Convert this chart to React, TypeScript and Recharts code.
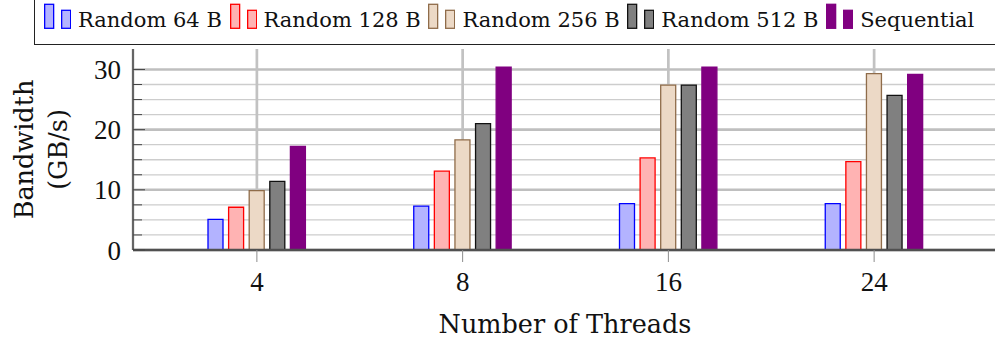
import React from "react";
import { BarChart, Bar, XAxis, YAxis, CartesianGrid, Label } from "recharts";

const FONT = "'DejaVu Serif', serif";
const NUM_FONT = "'Liberation Serif', serif";

// bandwidth (GB/s) per thread count
const threads = ["4", "8", "16", "24"];
const random64 = [5.1, 7.3, 7.7, 7.7];
const random128 = [7.1, 13.1, 15.3, 14.7];
const random256 = [9.85, 18.3, 27.4, 29.3];
const random512 = [11.4, 21.0, 27.4, 25.7];
const sequential = [17.2, 30.4, 30.4, 29.2];

const yMax = 33.4;
const yMajor = [0, 10, 20, 30];
const yMinor = [2.5, 5, 7.5, 12.5, 15, 17.5, 22.5, 25, 27.5];
const yAll = [...yMajor, ...yMinor].sort((a, b) => a - b);

const series = [
  { key: "r64", name: "Random 64 B", values: random64, fill: "#b3b3ff", stroke: "#0000ff" },
  { key: "r128", name: "Random 128 B", values: random128, fill: "#ffb3b3", stroke: "#ff0000" },
  { key: "r256", name: "Random 256 B", values: random256, fill: "#ecd9c6", stroke: "#8f6c4a" },
  { key: "r512", name: "Random 512 B", values: random512, fill: "#808080", stroke: "#111111" },
  { key: "seq", name: "Sequential", values: sequential, fill: "#800080", stroke: "#800080" },
];

const data = threads.map((t, i) => {
  const row: Record<string, string | number> = { threads: t };
  series.forEach((s) => {
    row[s.key] = s.values[i];
  });
  return row;
});

function LeftTick(props: any) {
  const { x, y, payload } = props;
  const major = payload.value % 10 === 0;
  return (
    <g>
      <line x1={x} x2={x + (major ? 12 : 9)} y1={y} y2={y} stroke="#444" strokeWidth={1} />
      {major && (
        <text x={x - 12} y={y} dy="0.355em" textAnchor="end" fontSize={27} fill="#111" fontFamily={NUM_FONT}>
          {payload.value}
        </text>
      )}
    </g>
  );
}

function RightTick(props: any) {
  const { x, y, payload } = props;
  const major = payload.value % 10 === 0;
  return <line x1={x} x2={x - (major ? 12 : 9)} y1={y} y2={y} stroke="#444" strokeWidth={1} />;
}

function YTitle(props: any) {
  const vb = props.viewBox;
  const cy = vb.y + vb.height / 2;
  const x1 = vb.x + 33;
  const x2 = vb.x + 67;
  return (
    <g fontFamily={FONT} fontSize={25.5} fill="#111">
      <text x={x1} y={cy} transform={`rotate(-90 ${x1} ${cy})`} textAnchor="middle">
        Bandwidth
      </text>
      <text x={x2} y={cy} transform={`rotate(-90 ${x2} ${cy})`} textAnchor="middle">
        (GB/s)
      </text>
    </g>
  );
}

function LegendIcon({ fill, stroke }: { fill: string; stroke: string }) {
  return (
    <svg width={27} height={29} style={{ display: "block" }}>
      <rect x={0.65} y={4.3} width={9} height={24} fill={fill} stroke={stroke} strokeWidth={1.3} />
      <rect x={17.65} y={10.3} width={9} height={18} fill={fill} stroke={stroke} strokeWidth={1.3} />
    </svg>
  );
}

function LegendBox() {
  return (
    <>
      <div
        style={{
          position: "absolute",
          left: 34,
          top: -10,
          width: 1000,
          height: 55,
          boxSizing: "border-box",
          border: "1.3px solid #222",
          background: "#fff",
        }}
      />
      <div style={{ position: "absolute", left: 44, top: 0, height: 29, display: "flex", alignItems: "flex-end" }}>
        {series.map((s) => (
          <div key={s.key} style={{ display: "flex", alignItems: "flex-end", marginRight: 7.7 }}>
            <LegendIcon fill={s.fill} stroke={s.stroke} />
            <span
              style={{
                marginLeft: 7,
                fontFamily: FONT,
                fontSize: 21,
                lineHeight: "21px",
                marginBottom: -1.6,
                color: "#111",
                whiteSpace: "nowrap",
              }}
            >
              {s.name}
            </span>
          </div>
        ))}
      </div>
    </>
  );
}

export default function App() {
  return (
    <div style={{ position: "fixed", left: 0, top: 0, width: 995, height: 343, overflow: "hidden", background: "#fff" }}>
      <BarChart
        width={1010}
        height={343}
        data={data}
        margin={{ top: 49, right: 0, left: 0, bottom: 0 }}
        barGap={5.6}
        style={{ fontFamily: FONT }}
      >
        <CartesianGrid horizontal vertical={false} horizontalValues={yMinor} stroke="#cdcdcd" strokeWidth={1.3} />
        <CartesianGrid horizontal vertical={false} horizontalValues={yMajor} stroke="#bfbfbf" strokeWidth={2.6} />
        <CartesianGrid horizontal={false} vertical stroke="#c2c2c2" strokeWidth={2.7} />
        <XAxis
          dataKey="threads"
          height={93}
          padding={{ left: 21, right: 20 }}
          tickSize={12}
          tickMargin={10}
          tickLine={{ stroke: "#8c8c8c", strokeWidth: 1 }}
          axisLine={{ stroke: "#505050", strokeWidth: 2.4 }}
          tick={{ fontSize: 27, fill: "#111", fontFamily: NUM_FONT }}
        >
          <Label value="Number of Threads" position="insideBottom" offset={10} fontSize={25.5} fill="#111" fontFamily={FONT} />
        </XAxis>
        <XAxis
          xAxisId="top"
          orientation="top"
          dataKey="threads"
          height={0}
          padding={{ left: 21, right: 20 }}
          tick={false}
          tickLine={false}
          axisLine={{ stroke: "#333", strokeWidth: 1.3 }}
        />
        <YAxis
          type="number"
          width={133}
          domain={[0, yMax]}
          ticks={yAll}
          interval={0}
          tickSize={0}
          tickMargin={0}
          tick={<LeftTick />}
          axisLine={{ stroke: "#333", strokeWidth: 1.3 }}
        >
          <Label content={YTitle} />
        </YAxis>
        <YAxis
          yAxisId="r"
          orientation="right"
          type="number"
          width={13}
          domain={[0, yMax]}
          ticks={yAll}
          interval={0}
          tickSize={0}
          tickMargin={0}
          tick={<RightTick />}
          axisLine={{ stroke: "#333", strokeWidth: 1.3 }}
        />
        {series.map((s) => (
          <Bar
            key={s.key}
            dataKey={s.key}
            name={s.name}
            fill={s.fill}
            stroke={s.stroke}
            strokeWidth={1.3}
            barSize={15}
            isAnimationActive={false}
          />
        ))}
      </BarChart>
      <LegendBox />
    </div>
  );
}
